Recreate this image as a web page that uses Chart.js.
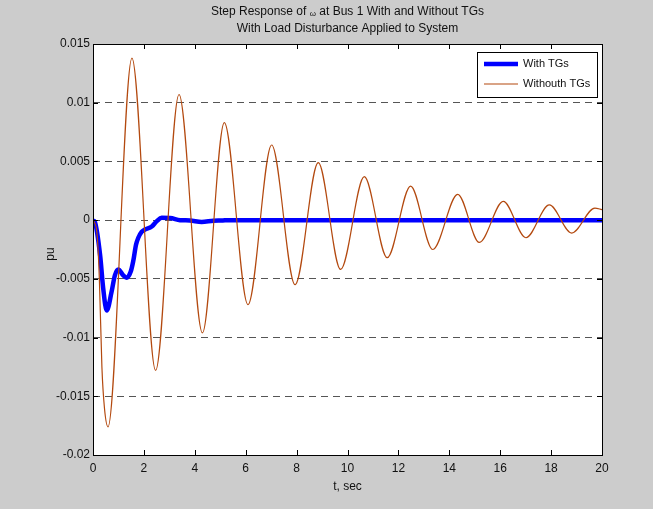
<!DOCTYPE html>
<html lang="en">
<head>
    <meta charset="UTF-8">
    <title>Step Response</title>
    <script src="https://cdn.jsdelivr.net/npm/chart.js@4.4.0/dist/chart.umd.min.js"></script>
    <style>
      body { margin: 0; background: #cccccc; }
      #wrap { width: 653px; height: 509px; }
    </style>
</head>
<body>
    <div id="wrap"><canvas id="stepChart" width="653" height="509"></canvas></div>

    <script>
        // data
        const xTicks = [0, 2, 4, 6, 8, 10, 12, 14, 16, 18, 20];
        const yTicks = [-0.02, -0.015, -0.01, -0.005, 0, 0.005, 0.01, 0.015];

        // With TGs (thick blue)
        const tWith = [0, 0.08, 0.28, 0.40, 0.54, 0.73, 0.86, 0.995, 1.19, 1.32, 1.48, 1.58, 1.69, 1.78, 1.91, 2.04, 2.31, 2.5, 2.7, 3.03, 3.42, 3.81, 4.27, 4.73, 5.1, 5.3, 8, 12, 16, 20];
        const vWith = [0, -0.0002, -0.003, -0.0058, -0.0077, -0.0061, -0.0047, -0.0042, -0.0047, -0.0049, -0.0044, -0.0035, -0.0021, -0.0015, -0.001, -0.0008, -0.00054, -0.0001, 0.0002, 0.00018, 0, -0.00003, -0.00015, -0.00005, -0.00003, 0, 0, 0, 0, 0];

        // Withouth TGs (thin brown)
        const tWithout = [0, 0.15, 0.25, 0.35, 0.45, 0.59, 1.53, 2.46, 3.38, 4.30, 5.16, 6.09, 7.02, 7.94, 8.85, 9.73, 10.66, 11.56, 12.48, 13.35, 14.33, 15.18, 16.12, 17.01, 17.93, 18.81, 19.72, 20];
        const vWithout = [0, -0.001, -0.005, -0.0125, -0.016, -0.0176, 0.0138, -0.0128, 0.0107, -0.0096, 0.0083, -0.0072, 0.0064, -0.0055, 0.0049, -0.0042, 0.0037, -0.0032, 0.0029, -0.0025, 0.0022, -0.0019, 0.0016, -0.0015, 0.0013, -0.0011, 0.00103, 0.0009];

        const seriesNames = ['With TGs', 'Withouth TGs'];
        const titleLines = ['Step Response of ', 'ω', ' at Bus 1 With and Without TGs', 'With Load Disturbance Applied to System'];

        const FONT = "'Liberation Sans', Arial, sans-serif";

        // figure background, white axes, box, inner ticks, titles, legend
        const figurePlugin = {
            id: 'figure',
            beforeDraw(chart) {
                const ctx = chart.ctx, a = chart.chartArea;
                ctx.save();
                ctx.fillStyle = '#cccccc';
                ctx.fillRect(0, 0, chart.width, chart.height);
                ctx.fillStyle = '#ffffff';
                ctx.fillRect(a.left, a.top, a.right - a.left, a.bottom - a.top);
                ctx.restore();
            },
            afterDraw(chart) {
                const ctx = chart.ctx, a = chart.chartArea;
                const xs = chart.scales.x, ys = chart.scales.y;
                ctx.save();
                ctx.strokeStyle = '#000';
                ctx.lineWidth = 1;
                ctx.strokeRect(Math.round(a.left) + 0.5, Math.round(a.top) + 0.5, Math.round(a.right - a.left), Math.round(a.bottom - a.top));

                // inner tick marks
                ctx.beginPath();
                xs.ticks.forEach(t => {
                    const px = Math.round(xs.getPixelForValue(t.value)) + 0.5;
                    ctx.moveTo(px, a.bottom); ctx.lineTo(px, a.bottom - 5);
                    ctx.moveTo(px, a.top); ctx.lineTo(px, a.top + 5);
                });
                ys.ticks.forEach(t => {
                    const py = Math.round(ys.getPixelForValue(t.value)) + 0.5;
                    ctx.moveTo(a.left, py); ctx.lineTo(a.left + 5, py);
                    ctx.moveTo(a.right, py); ctx.lineTo(a.right - 5, py);
                });
                ctx.stroke();

                // titles
                const cx = (a.left + a.right) / 2;
                ctx.fillStyle = '#111';
                ctx.textBaseline = 'middle';
                ctx.textAlign = 'left';
                ctx.font = '12px ' + FONT;
                const w1 = ctx.measureText(titleLines[0]).width;
                const w3 = ctx.measureText(titleLines[2]).width;
                ctx.font = '8px ' + FONT;
                const w2 = ctx.measureText(titleLines[1]).width;
                const x0 = cx - (w1 + w2 + w3) / 2;
                ctx.font = '12px ' + FONT;
                ctx.fillText(titleLines[0], x0, 12);
                ctx.font = '8px ' + FONT;
                ctx.fillText(titleLines[1], x0 + w1, 14);
                ctx.font = '12px ' + FONT;
                ctx.fillText(titleLines[2], x0 + w1 + w2, 12);
                ctx.textAlign = 'center';
                ctx.fillText(titleLines[3], cx, 29);

                // axis titles
                ctx.fillText('t, sec', cx, 487);
                ctx.save();
                ctx.translate(51, 254);
                ctx.rotate(-Math.PI / 2);
                ctx.fillText('pu', 0, 0);
                ctx.restore();

                // legend box
                const lx = a.right - 125, ly = a.top + 8, lw = 120, lh = 45;
                ctx.fillStyle = '#fff';
                ctx.fillRect(lx, ly, lw, lh);
                ctx.strokeStyle = '#000';
                ctx.strokeRect(Math.round(lx) + 0.5, Math.round(ly) + 0.5, lw, lh);
                ctx.font = '11px ' + FONT;
                ctx.textAlign = 'left';
                chart.data.datasets.forEach((ds, i) => {
                    const yy = ly + 12 + i * 20;
                    ctx.strokeStyle = ds.borderColor;
                    ctx.lineWidth = ds.borderWidth;
                    ctx.beginPath();
                    ctx.moveTo(lx + 7, yy); ctx.lineTo(lx + 41, yy);
                    ctx.stroke();
                    ctx.fillStyle = '#111';
                    ctx.fillText(ds.label, lx + 46, yy);
                });
                ctx.restore();
            }
        };

        new Chart(document.getElementById('stepChart'), {
            type: 'line',
            data: {
                datasets: [{
                    label: seriesNames[0],
                    data: tWith.map((t, i) => ({ x: t, y: vWith[i] })),
                    borderColor: '#0000ff',
                    borderWidth: 4.5,
                    pointRadius: 0,
                    cubicInterpolationMode: 'monotone',
                    order: 1
                }, {
                    label: seriesNames[1],
                    data: tWithout.map((t, i) => ({ x: t, y: vWithout[i] })),
                    borderColor: '#b3490f',
                    borderWidth: 1.2,
                    pointRadius: 0,
                    cubicInterpolationMode: 'monotone',
                    order: 0
                }]
            },
            options: {
                responsive: false,
                animation: false,
                layout: { padding: { left: 0, top: 44, right: 51, bottom: 0 } },
                plugins: { legend: { display: false }, title: { display: false }, tooltip: { enabled: false } },
                scales: {
                    x: {
                        type: 'linear', min: 0, max: 20,
                        afterBuildTicks: s => { s.ticks = xTicks.map(v => ({ value: v })); },
                        afterFit: s => { s.height = 54; },
                        grid: { display: false, drawTicks: false },
                        border: { display: false },
                        ticks: { color: '#111', padding: 6, maxRotation: 0, font: { family: FONT, size: 12 }, callback: v => String(v) }
                    },
                    y: {
                        min: -0.02, max: 0.015,
                        afterBuildTicks: s => { s.ticks = yTicks.map(v => ({ value: v })); },
                        afterFit: s => { s.width = 93; },
                        grid: {
                            drawTicks: false,
                            lineWidth: 1,
                            color: c => (c.tick && (c.tick.value === -0.02 || c.tick.value === 0.015)) ? 'rgba(0,0,0,0)' : '#555'
                        },
                        border: { display: false, dash: [7, 5] },
                        ticks: { color: '#111', padding: 3, font: { family: FONT, size: 12 }, callback: v => String(v) }
                    }
                }
            },
            plugins: [figurePlugin]
        });
    </script>
</body>
</html>
